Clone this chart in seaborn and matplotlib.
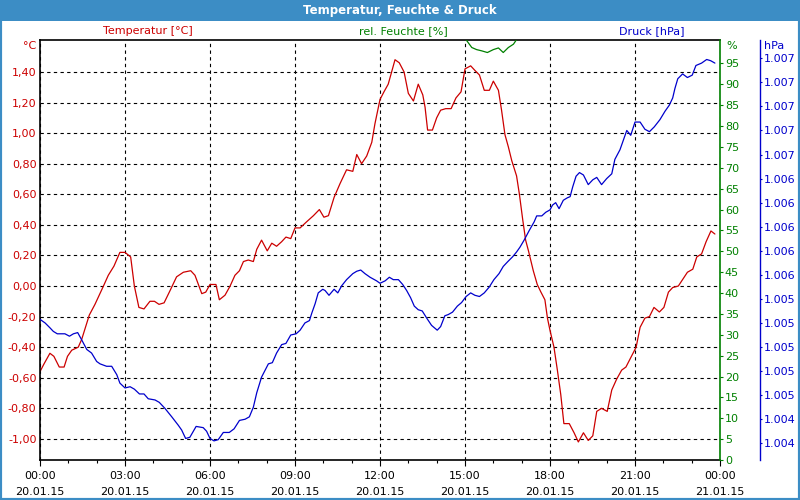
import numpy as np
import pandas as pd
import matplotlib
matplotlib.use("Agg")
import matplotlib.pyplot as plt
import matplotlib.dates as mdates
from matplotlib.ticker import FuncFormatter, FixedLocator
from matplotlib.patches import Rectangle
import seaborn as sns

# === Data ===
temp_hours = [
    0.0, 0.14, 0.35, 0.49, 0.68, 0.85, 0.97, 1.12, 1.35, 1.47,
    1.74, 1.94, 2.24, 2.41, 2.61, 2.82, 3.0, 3.2, 3.33, 3.49,
    3.67, 3.88, 4.04, 4.2, 4.38, 4.59, 4.82, 5.06, 5.32, 5.47,
    5.59, 5.71, 5.85,
    6.0, 6.21, 6.33, 6.53, 6.71, 6.88, 7.04, 7.18, 7.35, 7.53,
    7.65, 7.82, 8.02, 8.18, 8.35, 8.53, 8.68, 8.85, 9.0, 9.18,
    9.41, 9.65, 9.86, 10.02, 10.18, 10.38, 10.59, 10.82, 11.04, 11.18,
    11.35, 11.53, 11.71, 11.82,
    12.0, 12.14, 12.29, 12.41, 12.53, 12.68, 12.85, 13.0, 13.18, 13.35,
    13.51, 13.59, 13.68, 13.85, 14.0, 14.14, 14.32, 14.51, 14.68, 14.86,
    15.0, 15.2, 15.35, 15.51, 15.68, 15.86, 16.0, 16.18, 16.29, 16.41,
    16.53, 16.65, 16.82, 16.92, 17.04, 17.14, 17.24, 17.41, 17.55, 17.68,
    17.82, 17.91,
    18.0, 18.14, 18.26, 18.38, 18.49, 18.68, 18.85, 19.0, 19.18, 19.35,
    19.51, 19.65, 19.82, 20.02, 20.18, 20.35, 20.53, 20.68, 20.82, 21.04,
    21.18, 21.35, 21.51, 21.67, 21.86, 22.02, 22.18, 22.33, 22.53, 22.71,
    22.85, 23.04, 23.18, 23.35, 23.51, 23.68, 23.82,
]
temp_values = [
    -0.56, -0.51, -0.44, -0.46, -0.53, -0.53, -0.46, -0.42, -0.40, -0.35,
    -0.19, -0.12, 0.00, 0.07, 0.13, 0.22, 0.22, 0.19, 0.00, -0.14,
    -0.15, -0.10, -0.10, -0.12, -0.11, -0.03, 0.06, 0.09, 0.10, 0.07,
    0.01, -0.05, -0.04,
    0.01, 0.01, -0.09, -0.06, 0.00, 0.07, 0.10, 0.16, 0.17, 0.16,
    0.24, 0.30, 0.23, 0.28, 0.26, 0.29, 0.32, 0.31, 0.38, 0.38,
    0.42, 0.46, 0.50, 0.45, 0.46, 0.58, 0.67, 0.76, 0.75, 0.86,
    0.80, 0.85, 0.94, 1.06,
    1.22, 1.27, 1.32, 1.40, 1.48, 1.46, 1.40, 1.26, 1.21, 1.32,
    1.25, 1.17, 1.02, 1.02, 1.10, 1.15, 1.16, 1.16, 1.23, 1.27,
    1.42, 1.44, 1.41, 1.38, 1.28, 1.28, 1.34, 1.28, 1.15, 0.99,
    0.91, 0.82, 0.72, 0.60, 0.43, 0.30, 0.23, 0.10, 0.01, -0.04,
    -0.09, -0.21,
    -0.29, -0.40, -0.55, -0.71, -0.90, -0.90, -0.96, -1.02, -0.96, -1.01,
    -0.98, -0.82, -0.80, -0.82, -0.68, -0.61, -0.55, -0.53, -0.48, -0.40,
    -0.27, -0.21, -0.20, -0.14, -0.17, -0.14, -0.04, -0.01, 0.00, 0.05,
    0.09, 0.11, 0.19, 0.21, 0.29, 0.36, 0.34,
]

press_hours = [
    0.0, 0.18, 0.35, 0.47, 0.61, 0.88, 1.04, 1.18, 1.33, 1.47,
    1.65, 1.82, 2.0, 2.12, 2.35, 2.53, 2.71, 2.82, 3.0, 3.18,
    3.33, 3.51, 3.67, 3.82, 4.06, 4.21, 4.41, 4.65, 4.88, 5.0,
    5.14, 5.29, 5.51, 5.76, 5.88,
    6.0, 6.14, 6.29, 6.47, 6.68, 6.85, 7.04, 7.24, 7.39, 7.53,
    7.65, 7.82, 8.06, 8.2, 8.35, 8.53, 8.68, 8.85, 9.04, 9.18,
    9.35, 9.51, 9.59, 9.71, 9.82, 9.98, 10.06, 10.2, 10.38, 10.51,
    10.65, 10.82, 11.04, 11.18, 11.32, 11.47, 11.65, 11.88,
    12.0, 12.18, 12.33, 12.47, 12.65, 12.8, 12.94, 13.08, 13.21, 13.35,
    13.49, 13.65, 13.82, 14.02, 14.14, 14.29, 14.41, 14.56, 14.73, 14.88,
    15.04, 15.2, 15.35, 15.51, 15.68, 15.86, 16.02, 16.2, 16.35, 16.51,
    16.68, 16.82, 16.94, 17.09, 17.27, 17.44, 17.53, 17.71, 17.85,
    18.0, 18.09, 18.2, 18.32, 18.47, 18.61, 18.71, 18.8, 18.92, 19.04,
    19.18, 19.35, 19.51, 19.65, 19.82, 20.0, 20.18, 20.29, 20.47, 20.59,
    20.71, 20.85, 21.0, 21.18, 21.35, 21.51, 21.68, 21.88, 22.06, 22.21,
    22.33, 22.41, 22.51, 22.68, 22.85, 23.02, 23.15, 23.35, 23.53, 23.67,
    23.82,
]
press_values = [
    1005.23, 1005.20, 1005.16, 1005.13, 1005.11, 1005.11, 1005.09, 1005.11, 1005.12, 1005.06,
    1004.98, 1004.95, 1004.88, 1004.86, 1004.84, 1004.84, 1004.77, 1004.70, 1004.66, 1004.67,
    1004.65, 1004.61, 1004.61, 1004.57, 1004.56, 1004.54, 1004.49, 1004.42, 1004.35, 1004.31,
    1004.24, 1004.25, 1004.34, 1004.33, 1004.30,
    1004.24, 1004.22, 1004.23, 1004.29, 1004.29, 1004.32, 1004.39, 1004.40, 1004.42, 1004.50,
    1004.62, 1004.75, 1004.86, 1004.87, 1004.95, 1005.02, 1005.03, 1005.10, 1005.11, 1005.14,
    1005.20, 1005.22, 1005.28, 1005.36, 1005.45, 1005.48, 1005.47, 1005.43, 1005.48, 1005.45,
    1005.51, 1005.56, 1005.61, 1005.63, 1005.64, 1005.61, 1005.58, 1005.55,
    1005.53, 1005.55, 1005.58, 1005.56, 1005.56, 1005.52, 1005.47, 1005.41, 1005.34, 1005.31,
    1005.30, 1005.24, 1005.18, 1005.14, 1005.17, 1005.26, 1005.27, 1005.29, 1005.34, 1005.37,
    1005.42, 1005.45, 1005.43, 1005.42, 1005.45, 1005.50, 1005.56, 1005.61, 1005.67, 1005.71,
    1005.75, 1005.79, 1005.83, 1005.89, 1005.97, 1006.04, 1006.09, 1006.09, 1006.12,
    1006.14, 1006.18, 1006.20, 1006.15, 1006.22, 1006.24, 1006.25, 1006.33, 1006.42, 1006.45,
    1006.43, 1006.35, 1006.39, 1006.41, 1006.35, 1006.40, 1006.44, 1006.56, 1006.64, 1006.72,
    1006.80, 1006.76, 1006.87, 1006.87, 1006.81, 1006.79, 1006.83, 1006.89, 1006.96, 1007.01,
    1007.07, 1007.15, 1007.23, 1007.27, 1007.24, 1007.26, 1007.34, 1007.36, 1007.39, 1007.38,
    1007.36,
]

hum_hours = [15.0, 15.24, 15.41, 15.59, 15.79, 16.0, 16.18, 16.35, 16.53, 16.71, 16.85]
hum_values = [101.0, 98.8, 98.3, 98.0, 97.6, 98.3, 98.7, 97.6, 98.8, 99.6, 101.0]

temp_ticks = [-1.0, -0.8, -0.6, -0.4, -0.2, 0.0, 0.2, 0.4, 0.6, 0.8, 1.0, 1.2, 1.4]
hum_ticks = list(range(0, 100, 5))
press_ticks = [1004.2, 1004.4, 1004.6, 1004.8, 1005.0, 1005.2, 1005.4, 1005.6, 1005.8,
               1006.0, 1006.2, 1006.4, 1006.6, 1006.8, 1007.0, 1007.2, 1007.4]

# === Style ===
RED = "#cc0000"
GREEN = "#008000"
BLUE = "#0000cc"
FRAME = "#3c8dc5"
GRID_LS = (0, (3, 3))

sns.set_style("white")
plt.rcParams["font.family"] = ["DejaVu Sans"]
plt.rcParams["font.size"] = 8

start = pd.Timestamp("2015-01-20")


def to_frame(hours, values):
    return pd.DataFrame({"time": start + pd.to_timedelta(hours, unit="h"), "value": values})


def temp_fmt(v, pos):
    if abs(v) < 1e-9:
        v = 0.0
    return f"{v:.2f}".replace(".", ",")


def press_fmt(v, pos):
    # German thousands separator, whole hPa
    return f"{int(np.floor(v + 0.5)):,}".replace(",", ".")


temp = to_frame(temp_hours, temp_values)
press = to_frame(press_hours, press_values)
hum = to_frame(hum_hours, hum_values)

fig = plt.figure(figsize=(8, 5), dpi=100)
fig.patch.set_facecolor("white")
ax = fig.add_axes([0.05, 0.08, 0.85, 0.84])
ax2 = ax.twinx()
ax3 = ax.twinx()

sns.lineplot(data=temp, x="time", y="value", ax=ax, color=RED, linewidth=0.9, legend=False)
sns.lineplot(data=hum, x="time", y="value", ax=ax2, color=GREEN, linewidth=0.9, legend=False)
sns.lineplot(data=press, x="time", y="value", ax=ax3, color=BLUE, linewidth=0.9, legend=False)

for a in (ax, ax2, ax3):
    a.set_xlabel("")
    a.set_ylabel("")

# --- x axis ---
ax.set_xlim(start, start + pd.Timedelta(hours=24))
ax.xaxis.set_major_locator(mdates.HourLocator(byhour=range(0, 24, 3)))
ax.xaxis.set_minor_locator(mdates.HourLocator(interval=1))
ax.xaxis.set_major_formatter(mdates.DateFormatter("%H:%M\n%d.%m.%y"))
ax.tick_params(axis="x", which="major", direction="out", length=4, width=0.8,
               color="black", labelcolor="black", pad=4, bottom=True)
ax.tick_params(axis="x", which="minor", direction="out", length=2, width=0.8,
               color="black", bottom=True)

# --- temperature axis ---
ax.set_ylim(-1.138, 1.609)
ax.yaxis.set_major_locator(FixedLocator(temp_ticks))
ax.yaxis.set_major_formatter(FuncFormatter(temp_fmt))
ax.tick_params(axis="y", length=0, labelcolor=RED, pad=2.5, left=True)
ax.grid(True, which="major", color="black", linestyle=GRID_LS, linewidth=0.8)

for side in ("left", "top", "bottom"):
    ax.spines[side].set_color("black")
    ax.spines[side].set_linewidth(1.2)
ax.spines["right"].set_visible(False)

# --- humidity axis ---
ax2.set_ylim(0, 100.6)
ax2.yaxis.set_major_locator(FixedLocator(hum_ticks))
ax2.tick_params(axis="y", direction="out", length=2.5, width=0.8, color=GREEN,
                labelcolor=GREEN, pad=1, right=True)
ax2.grid(False)
for side in ("left", "top", "bottom"):
    ax2.spines[side].set_visible(False)
ax2.spines["right"].set_color(GREEN)
ax2.spines["right"].set_linewidth(1.2)

# --- pressure axis ---
ax3.set_ylim(1004.061, 1007.552)
ax3.spines["right"].set_position(("axes", 1.0588))
ax3.yaxis.set_major_locator(FixedLocator(press_ticks))
ax3.yaxis.set_major_formatter(FuncFormatter(press_fmt))
ax3.tick_params(axis="y", direction="out", length=1.5, width=0.8, color=BLUE,
                labelcolor=BLUE, pad=1.5, right=True)
ax3.grid(False)
for side in ("left", "top", "bottom"):
    ax3.spines[side].set_visible(False)
ax3.spines["right"].set_color(BLUE)
ax3.spines["right"].set_linewidth(1.0)

for tick in ax.xaxis.get_major_ticks():
    tick.label1.set_linespacing(1.7)

# --- labels ---
fig.text(148 / 800, 1 - 31 / 500, "Temperatur [°C]", color=RED, ha="center", va="center")
fig.text(403 / 800, 1 - 31 / 500, "rel. Feuchte [%]", color=GREEN, ha="center", va="center")
fig.text(652 / 800, 1 - 31 / 500, "Druck [hPa]", color=BLUE, ha="center", va="center")
fig.text(36 / 800, 1 - 46 / 500, "°C", color=RED, ha="right", va="center")
fig.text(726 / 800, 1 - 46 / 500, "%", color=GREEN, ha="left", va="center")
fig.text(764 / 800, 1 - 46 / 500, "hPa", color=BLUE, ha="left", va="center")

# === Window frame & title bar ===
fig.patches.append(Rectangle((0, 1 - 21 / 500), 1, 21 / 500, transform=fig.transFigure,
                             facecolor=FRAME, edgecolor="none", zorder=-1))
fig.patches.append(Rectangle((0, 0), 1, 1, transform=fig.transFigure, fill=False,
                             edgecolor=FRAME, linewidth=3, zorder=-1))
fig.text(0.5, 1 - 10.5 / 500, "Temperatur, Feuchte & Druck", color="white",
         ha="center", va="center", fontsize=8.5, fontweight="bold")

fig.savefig("out.png", dpi=100)
